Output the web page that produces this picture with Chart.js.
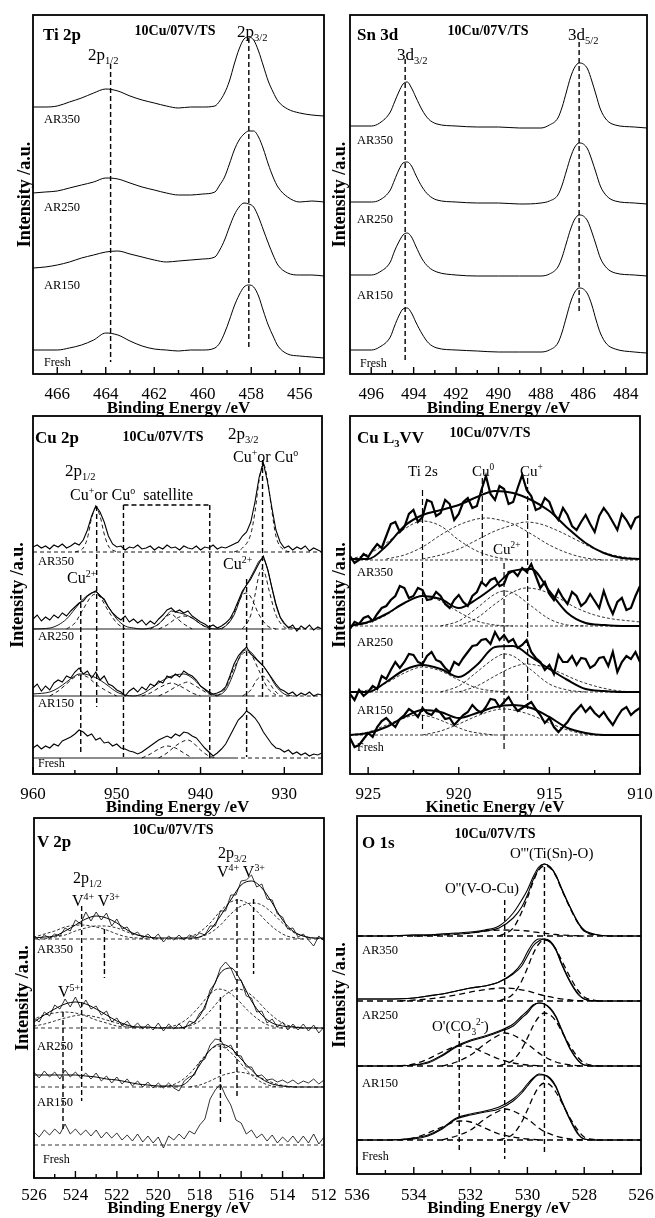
<!DOCTYPE html>
<html>
<head>
<meta charset="utf-8">
<script src="https://cdn.jsdelivr.net/npm/chart.js@4.4.1/dist/chart.umd.min.js"></script>
<style>
body{margin:0;background:#fff;width:655px;height:1218px;position:relative;overflow:hidden;font-family:"Liberation Serif","Times New Roman",serif;}
canvas{position:absolute;}
.t{position:absolute;white-space:nowrap;line-height:1;color:#000;z-index:5;}
.t sub,.t sup{font-size:0.62em;line-height:0;}
</style>
</head>
<body>
<script>
const FONT = '"Liberation Serif", "Times New Roman", serif';
const SAMPLES = ['AR350', 'AR250', 'AR150', 'Fresh'];

// ---------- Ti 2p ----------
const tiX = [467,466.5,466,465.5,465,464.5,464,463.5,463,462.5,462,461.5,461,460.5,460,459.5,459.3,459.1,458.9,458.7,458.5,458.3,458.1,457.9,457.7,457.5,457.3,457.1,456.9,456.5,456,455.5,455];
const tiAR350 = [9,9,10,14,18,23,27,25,20,16,13,10,8,9,9,10,15,23,35,52,67,77,79,76,65,50,35,24,15,7,3,1,0];
const tiAR250 = [9,10,11,14,17,20,24,23,19,15,12,9,7,7,8,10,17,25,38,52,62,68,71,71,65,53,38,25,15,5,0,1,0];
const tiAR150 = [8,9,11,14,18,21,24,25,22,19,16,14,15,16,17,19,26,36,49,61,69,73,72,69,59,46,33,21,11,3,1,1,0];
const tiFresh = [8,8,8,10,13,18,25,23,17,12,9,8,7,8,8,10,15,25,38,52,63,71,73,71,62,47,33,22,12,4,2,1,0];
const tiOffsets = [258, 172, 98, 16];
const tiPeaks = [[463.8, 310, 12], [458.1, 336, 27]];
const tiMajor = [466,464,462,460,458,456];
const tiMinor = [465,463,461,459,457];

// ---------- Sn 3d ----------
const snX = [497,496,495.6,495.1,494.9,494.7,494.5,494.3,494.1,493.9,493.6,493.3,492.9,492,491,490,489,488,487.6,487.2,487,486.8,486.6,486.4,486.2,486,485.8,485.6,485.4,485.2,484.9,484.5,483.6,483];
const snAR350 = [2,2,5,16,26,36,44,46,40,31,18,9,4,2,1,1,0,0,3,10,21,36,51,61,65,64,59,47,33,19,8,3,1,0];
const snAR250 = [2,2,4,14,24,34,41,42,38,29,17,9,4,2,1,1,0,1,3,9,19,33,47,57,61,60,55,44,31,18,8,3,1,0];
const snAR150 = [1,1,4,14,25,34,41,43,39,30,17,9,4,1,0,0,0,0,2,9,19,33,47,57,61,60,55,44,31,18,8,3,1,0];
const snFresh = [3,3,6,16,27,37,44,45,40,31,19,10,5,3,2,1,1,1,3,10,21,36,51,61,65,64,59,48,33,20,9,4,1,0];
const snOffsets = [246, 170, 98, 21];
const snPeaks = [[494.4, 315, 14], [486.2, 332, 61]];
const snMajor = [496,494,492,490,488,486,484];
const snMinor = [495,493,491,489,487,485];

// ---------- Cu 2p (960 -> 925.5, step 0.5) ----------
const cuAR350 = [5,7,4,6,3,7,5,8,4,6,9,7,12,22,36,46,40,30,16,8,5,6,2,5,4,7,3,4,6,2,5,3,7,4,5,2,6,4,3,6,2,5,4,7,3,5,4,6,8,10,16,20,30,50,75,89,70,45,22,10,4,6,2,5,3,6,1,4,2,0];
const cuAR250 = [10,14,8,12,9,14,11,16,13,18,22,26,28,33,36,38,33,30,22,16,12,9,13,7,10,6,9,4,8,5,10,14,19,21,17,19,16,18,13,10,7,5,2,4,1,3,6,10,18,28,38,44,50,58,66,73,60,42,25,12,6,1,4,-2,3,0,4,-1,2,0];
const cuAR150 = [8,12,5,10,6,13,16,14,20,18,24,28,22,25,18,24,16,20,12,10,6,4,0,5,8,4,9,6,12,10,15,13,20,18,22,19,25,22,20,16,10,7,4,2,3,5,9,20,32,40,45,49,42,38,34,30,24,18,12,7,5,2,4,0,3,1,4,0,2,1];
const cuFresh = [10,13,9,12,10,14,12,17,19,21,24,28,26,22,24,18,20,15,16,12,14,10,9,7,6,4,6,9,12,15,18,20,22,20,24,22,26,25,22,20,15,10,6,2,5,9,14,22,30,38,42,47,44,40,34,26,20,14,10,9,6,8,4,6,3,5,2,4,3,5];
const cuEnv250 = [[960,0],[958,1],[957,4],[956,10],[955,20],[954,30],[953,36],[952.5,37],[952,34],[951,22],[950,10],[949,3],[948,1],[947,0],[946,1],[945,5],[944,14],[943.5,18],[943,17],[942,15],[941,11],[940,5],[939,1],[938,0],[937,3],[936,14],[935,36],[934,52],[933.5,60],[933,68],[932.5,70],[932,60],[931.5,42],[931,24],[930.5,12],[930,5],[929,1],[928,0]];
const cuEnv150 = [[960,2],[958,4],[957,8],[956,14],[955,20],[954.5,22],[954,22],[953,20],[952,16],[951,10],[950,4],[949,1],[948,0],[947,2],[946,7],[945,13],[944,18],[943,21],[942,22],[941,18],[940,10],[939,3],[938,1],[937,6],[936,24],[935.5,36],[935,44],[934.5,46],[934,44],[933,34],[932.5,30],[932,24],[931,10],[930,2],[929,0]];
const cuFit350 = [
  [[955,0],[954,4],[953.5,14],[953,34],[952.5,44],[952,36],[951.5,18],[951,6],[950,0]],
  [[936,0],[935,4],[934,18],[933.5,40],[933,72],[932.5,88],[932,72],[931.5,42],[931,16],[930,2],[929,0]]];
const cuFit250 = [
  [[956,0],[955,6],[954,20],[953,33],[952.5,35],[952,32],[951,18],[950,6],[949,0]],
  [[946,0],[945,5],[944,13],[943.5,15],[943,12],[942,5],[941,0]],
  [[945,0],[944,4],[943,10],[942,13],[941,11],[940,5],[939,0]],
  [[937.5,0],[936.5,8],[935.5,26],[935,34],[934.5,36],[934,32],[933,14],[932,3],[931,0]],
  [[935,0],[934,14],[933.5,34],[933,55],[932.7,60],[932.3,55],[931.8,38],[931,14],[930,2],[929.5,0]]];
const cuFit150 = [
  [[958,0],[957,5],[956,12],[955,19],[954.3,21],[953.5,19],[952.5,12],[951,4],[950,0]],
  [[947,0],[946,3],[945,8],[944,12],[943.5,13],[943,12],[942,8],[941,3],[940,0]],
  [[945,0],[944,4],[943,9],[942,13],[941.5,14],[941,12],[940,7],[939,2],[938,0]],
  [[938,0],[937,8],[936,28],[935,42],[934.5,44],[934,42],[933,25],[932,8],[931,1]],
  [[935,0],[934,6],[933.3,16],[932.6,20],[932,16],[931.3,7],[930.5,0]]];
const cuFitFresh = [
  [[947,0],[946,4],[945,9],[944,12],[943,10],[942,5],[941,0]],
  [[945,0],[944,5],[943,12],[942,17],[941.5,18],[941,16],[940,8],[939,2],[938,0]]];
const cuOffsets = [222, 145, 78, 16];
const cuSolidTo = [null, 932, 934, 936];
const cuPeaks = [[952.4,268,67],[954.3,179,19],[932.6,314,75],[934.5,195,17],[949.2,269,17],[938.9,269,16]];
const cuSatTop = [949.2, 938.9, 269];
const cuMajor = [960,950,940,930];
const cuMinor = [955,945,935];

// ---------- Cu L3VV (926 -> 910, raw step 0.25, envelope step 1) ----------
const l3AR350 = [4,-3,0,6,3,10,16,12,24,36,38,28,33,46,50,38,43,60,58,44,47,60,56,40,46,58,62,52,54,70,84,66,60,74,71,56,58,72,85,70,64,50,52,62,58,46,40,52,45,34,30,38,45,36,28,44,52,46,38,30,46,40,32,42,44];
const l3AR250 = [-3,4,2,8,10,5,12,18,20,26,30,40,38,28,30,38,36,26,27,34,30,22,18,26,31,24,20,30,34,44,40,46,48,40,42,54,55,50,58,54,62,50,38,44,32,26,36,28,22,34,30,20,24,32,25,18,35,22,12,24,28,16,18,30,40];
const l3AR150 = [-2,-8,2,-4,0,6,3,16,13,22,30,24,30,38,37,30,28,36,40,32,30,24,20,30,27,34,40,46,47,52,53,48,60,52,57,50,53,44,47,52,40,34,30,22,27,18,37,30,30,36,27,34,33,24,27,34,35,26,40,20,30,36,33,40,30];
const l3Fresh = [-3,-12,-10,-4,2,-2,8,14,17,12,8,16,20,26,23,18,27,22,20,26,22,16,17,10,15,20,23,30,25,22,28,36,35,28,33,38,30,24,27,30,33,26,20,12,17,8,3,8,13,20,25,30,23,28,22,18,23,16,10,18,25,28,20,24,27];
const l3Env350 = [1,1,14,34,45,50,55,63,69,67,60,49,32,17,7,2,1];
const l3Env250 = [0,4,12,23,30,27,18,27,40,55,57,35,13,3,1,0,0];
const l3Env150 = [0,0,10,22,27,23,15,27,45,46,35,23,12,3,1,0,0];
const l3EnvFresh = [0,2,8,18,25,23,17,22,28,30,27,18,7,2,0,0,0];
const l3Fit350 = [
  [[926,1],[925,6],[924,17],[923,31],[922,39],[921,34],[920,20],[919,9],[918,3],[917,0]],
  [[924,1],[923,5],[922,13],[921,25],[920,35],[919,41],[918.5,42],[918,41],[917,36],[916,26],[915,15],[914,7],[913,2],[912,0]],
  [[922,1],[921,5],[920,11],[919,20],[918,29],[917,35],[916.3,38],[915.5,36],[914.5,29],[913.5,20],[912.5,11],[911.5,5],[910.5,2],[910,1]]];
const l3Fit250 = [
  [[926,0],[925,3],[924,11],[923,23],[922,30],[921,25],[920,14],[919,5],[918,1],[917,0]],
  [[921,0],[920,5],[919,18],[918,32],[917.5,35],[917,33],[916,20],[915,7],[914,1],[913,0]],
  [[920,0],[919,8],[918,22],[917,34],[916.3,38],[915.5,36],[914.5,28],[913.5,18],[912.5,11],[911.5,7],[910.5,5],[910,4]]];
const l3Fit150 = [
  [[926,0],[925,2],[924,9],[923,19],[922,25],[921,21],[920,12],[919,4],[918,1],[917,0]],
  [[921,0],[920,6],[919,20],[918,34],[917.5,38],[917,36],[916,22],[915,8],[914,2],[913,0]],
  [[920,0],[919,6],[918,16],[917,25],[916.3,28],[915.5,26],[914.5,20],[913.5,12],[912.5,6],[911.5,2],[910.5,0]]];
const l3FitFresh = [
  [[926,0],[925,3],[924,10],[923,17],[922.3,20],[921.5,18],[920.5,11],[919.5,4],[918.5,1],[918,0]],
  [[922,0],[921,4],[920,11],[919,19],[918,25],[917.5,26],[917,25],[916,20],[915,12],[914,5],[913,1],[912,0]]];
const l3Offsets = [214, 148, 82, 39];
const l3Peaks = [[922.0,284,45],[918.7,296,189],[916.2,296,62],[917.5,211,23]];
const l3Major = [925,920,915,910];
const l3Minor = [922.5,917.5,912.5];

// ---------- V 2p (526 -> 512, raw step 0.25, envelope step 0.5) ----------
const vAR350 = [3,-1,4,1,5,3,11,8,19,15,27,18,27,19,26,13,20,10,12,4,7,1,5,0,5,-3,3,-1,4,-1,4,2,6,4,13,13,28,28,44,44,58,59,64,52,55,40,39,25,22,10,11,2,5,-1,-7,3,-2];
const vAR250 = [10,6,16,12,23,19,29,21,31,20,28,19,22,13,17,6,10,2,7,0,5,-1,4,-2,5,-3,4,-1,4,-1,7,5,15,19,38,45,60,66,60,48,48,32,30,16,17,5,9,1,6,-2,4,-2,4,-3,3,-5,1];
const vAR150 = [15,9,16,10,15,8,17,10,15,9,14,8,14,6,11,4,10,3,8,1,6,0,5,-1,4,-1,4,-1,-4,6,10,12,25,28,42,48,47,39,42,32,31,20,20,11,12,7,8,5,7,4,7,3,6,4,8,3,7];
const vFresh = [13,8,15,10,16,11,21,11,16,10,15,9,15,7,13,7,12,5,10,4,11,3,9,2,8,-3,9,5,11,6,14,11,20,26,46,55,61,49,40,25,22,11,15,7,11,4,10,2,8,3,9,2,9,2,11,1,8];
const vEnv350 = [1,2,3,8,14,20,23,21,16,9,4,2,1,1,1,1,2,9,23,39,54,58,51,36,19,8,3,1,1];
const vEnv250 = [6,13,19,24,26,24,19,13,7,3,1,1,0,0,0,3,12,34,55,60,47,27,13,5,2,1,0,0,0];
const vEnv150 = [12,12,12,12,12,11,10,8,7,5,3,2,1,1,1,7,22,37,43,39,28,17,8,3,1,0,0,0,0];
const vFit350 = [
  [[519,0],[518.5,2],[518,7],[517.5,16],[517,28],[516.5,37],[516.2,39],[515.8,37],[515.3,29],[514.8,18],[514.3,9],[513.8,3],[513.3,1],[513,0]],
  [[518.5,0],[518,2],[517.5,6],[517,14],[516.5,25],[516,33],[515.4,36],[515,34],[514.5,26],[514,16],[513.5,7],[513,3],[512.5,1],[512,0]],
  [[527,0],[526,2],[525.5,5],[525,8],[524.5,12],[523.7,14],[523,12],[522.5,9],[522,5],[521.5,2],[521,1],[520.5,0]],
  [[525.5,0],[525,2],[524.5,4],[524,8],[523.5,11],[523,13],[522.6,13],[522,11],[521.5,7],[521,4],[520.5,2],[520,0]]];
const vFit250 = [
  [[520,0],[519.5,1],[519,4],[518.5,11],[518,22],[517.5,34],[517.1,39],[516.7,37],[516.2,29],[515.7,18],[515.2,9],[514.7,3],[514.2,1],[514,0]],
  [[519,0],[518.5,2],[518,7],[517.5,17],[517,29],[516.5,37],[516.2,39],[515.8,37],[515.3,29],[514.8,18],[514.3,9],[513.8,3],[513.3,1],[513,0]],
  [[528,0],[527,3],[526,9],[525.5,13],[525,15],[524.6,16],[524,15],[523.5,12],[523,8],[522.5,5],[522,2],[521.5,1],[521,0]],
  [[526.5,0],[526,2],[525.5,4],[525,7],[524.5,10],[523.7,13],[523,11],[522.5,8],[522,5],[521.5,2],[521,1],[520.5,0]]];
const vFit150 = [
  [[520,0],[519.5,1],[519,5],[518.5,13],[518,25],[517.5,37],[517.1,41],[516.7,38],[516.2,28],[515.7,16],[515.2,7],[514.7,2],[514.2,0]],
  [[518.5,0],[518,2],[517.5,6],[517,11],[516.5,14],[516.2,15],[515.8,14],[515.3,11],[514.8,7],[514.3,3],[513.8,1],[513.3,0]]];
const vOffsets = [239, 150, 91, 33];
const vPeaks = [[516.2,279,81],[515.4,279,204],[517.0,181,54],[523.7,272,77],[522.6,249,200],[524.6,166,49]];
const vMajor = [526,524,522,520,518,516,514,512];
const vMinor = [525,523,521,519,517,515,513];

// ---------- O 1s ----------
const oX = [536,535,534,533.5,533,532.5,532,531.5,531,530.5,530.2,530,529.8,529.6,529.4,529.2,529,528.8,528.5,528.2,528,527.5,527,526];
const oAR350 = [0,0,1,1,2,2,3,5,8,18,29,41,56,67,72,69,61,48,29,13,6,1,0,0];
const oAR350Fit = [0,0,1,1,2,3,4,6,10,23,36,46,59,69,72,69,61,47,29,12,5,1,0,0];
const oAR250 = [2,2,3,5,7,10,13,15,19,27,35,45,55,60,62,60,52,38,20,7,2,0,0,0];
const oAR250Fit = [2,2,3,5,7,10,13,15,19,28,38,49,58,62,62,59,51,37,19,6,2,0,0,0];
const oAR150 = [0,0,1,3,10,19,25,29,34,40,48,53,60,63,62,58,50,37,18,5,1,0,0,0];
const oAR150Fit = [0,0,1,4,11,20,26,30,35,42,50,55,61,63,62,57,49,36,17,5,1,0,0,0];
const oFresh = [0,0,1,4,11,21,25,28,31,39,47,54,61,65,65,62,54,40,21,6,1,0,0,0];
const oFreshFit = [0,0,2,5,12,22,26,29,33,41,49,56,62,66,65,61,53,39,20,5,1,0,0,0];
const oFit350 = [
  [[531,0],[530.5,8],[530.2,24],[530,38],[529.8,54],[529.6,66],[529.4,70],[529.2,68],[529,60],[528.8,47],[528.5,28],[528.2,12],[528,5],[527.5,0]],
  [[534,0],[533,1],[532,3],[531.5,5],[530.8,6],[530,5],[529.5,3],[529,1.5],[528.5,0.5],[528,0]]];
const oFit250 = [
  [[531,0],[530.5,7],[530.2,20],[530,33],[529.8,47],[529.6,57],[529.4,61],[529.2,59],[529,52],[528.8,41],[528.5,24],[528.2,10],[528,4],[527.5,0]],
  [[534.5,0],[533.5,2],[532.5,6],[531.8,10],[530.8,13],[530,10],[529.5,6],[529,3],[528.5,1],[528,0]]];
const oFit150 = [
  [[531,0],[530.5,6],[530.2,17],[530,28],[529.8,40],[529.6,49],[529.4,53],[529.2,51],[529,45],[528.8,35],[528.5,20],[528.2,8],[528,3],[527.5,0]],
  [[533,0],[532.5,4],[532,11],[531.5,22],[531,31],[530.8,33],[530.5,31],[530,22],[529.5,11],[529,4],[528.5,1],[528,0]],
  [[534.5,0],[534,2],[533.5,7],[533,14],[532.4,20],[532,19],[531.5,13],[531,7],[530.5,3],[530,1],[529.5,0]]];
const oFitFresh = [
  [[531,0],[530.5,6],[530.2,18],[530,30],[529.8,43],[529.6,53],[529.4,57],[529.2,55],[529,48],[528.8,38],[528.5,22],[528.2,9],[528,3],[527.5,0]],
  [[533,0],[532.5,4],[532,10],[531.5,21],[531,29],[530.8,31],[530.5,29],[530,21],[529.5,10],[529,4],[528.5,1],[528,0]],
  [[534.5,0],[534,2],[533.5,7],[533,13],[532.4,19],[532,18],[531.5,12],[531,6],[530.5,3],[530,1],[529.5,0]]];
const oOffsets = [238, 173, 108, 34];
const oPeaks = [[529.4,307,22],[530.8,274,15],[532.4,141,23]];
const oMajor = [536,534,532,530,528,526];
const oMinor = [535,533,531,529,527];

// ---------- helpers ----------
function grid(from, to, step) {
  const out = [];
  for (let v = from; v >= to - 1e-9; v -= step) out.push(+v.toFixed(2));
  return out;
}
function pts(xs, ys, off) { return xs.map((x, i) => ({x: x, y: ys[i] + off})); }
function pairs(list, off) { return list.map(p => ({x: p[0], y: p[1] + off})); }
function line(data, extra) {
  return Object.assign({data: data, borderColor: '#000', borderWidth: 1, pointRadius: 0, fill: false, tension: 0}, extra || {});
}
function seg(x1, y1, x2, y2, extra) { return line([{x: x1, y: y1}, {x: x2, y: y2}], extra); }
const SMOOTH = {cubicInterpolationMode: 'monotone'};
const GUIDE = {borderDash: [5, 3], borderWidth: 1.4};

function panel(p) {
  const w = p.box[2] - p.box[0], h = p.box[3] - p.box[1];
  const cv = document.createElement('canvas');
  cv.width = w + p.mL + p.mR;
  cv.height = h + p.mT + p.mB;
  cv.style.left = (p.box[0] - p.mL) + 'px';
  cv.style.top = (p.box[1] - p.mT) + 'px';
  document.body.appendChild(cv);
  const all = p.major.concat(p.minor).sort((a, b) => a - b);
  const frame = {
    id: 'frame',
    afterDraw(chart) {
      const ctx = chart.ctx, a = chart.chartArea, sx = chart.scales.x;
      ctx.save();
      ctx.strokeStyle = '#000';
      ctx.lineWidth = 1.4;
      sx.ticks.forEach(t => {
        const px = sx.getPixelForValue(t.value);
        const len = p.major.includes(t.value) ? 7 : 4;
        ctx.beginPath(); ctx.moveTo(px, a.bottom); ctx.lineTo(px, a.bottom - len); ctx.stroke();
      });
      ctx.lineWidth = 1.8;
      ctx.strokeRect(a.left, a.top, a.right - a.left, a.bottom - a.top);
      ctx.restore();
    }
  };
  new Chart(cv, {
    type: 'line',
    data: {datasets: p.datasets},
    options: {
      responsive: false, animation: false, events: [],
      layout: {autoPadding: false, padding: {left: 0, top: p.mT, right: p.mR, bottom: 0}},
      plugins: {legend: {display: false}, tooltip: {enabled: false}},
      scales: {
        x: {
          type: 'linear', reverse: true, min: p.xmin, max: p.xmax,
          grid: {display: false, drawTicks: false}, border: {display: false},
          afterBuildTicks: s => { s.ticks = all.map(v => ({value: v})); },
          afterFit: s => { s.height = p.mB; },
          ticks: {autoSkip: false, maxRotation: 0, minRotation: 0, padding: p.tickPad, color: '#000',
            font: {family: FONT, size: 17}, callback: v => p.major.includes(v) ? String(v) : ''},
          title: {display: true, text: p.xTitle || 'Binding Energy /eV', color: '#000', padding: 0,
            font: {family: FONT, size: 17, weight: 'bold', lineHeight: 1}}
        },
        y: {
          min: 0, max: h,
          grid: {display: false, drawTicks: false}, border: {display: false},
          ticks: {display: false},
          afterFit: s => { s.width = p.mL; },
          title: {display: true, text: 'Intensity /a.u.', color: '#000', padding: {top: p.yPad, bottom: 0},
            font: {family: FONT, size: 18, weight: 'bold', lineHeight: 1.2}}
        }
      }
    },
    plugins: [frame]
  });
}

function T(x, y, html, size, opt) {
  const d = document.createElement('div');
  d.className = 't';
  d.innerHTML = html;
  d.style.left = x + 'px';
  d.style.top = (y - size / 2) + 'px';
  d.style.fontSize = size + 'px';
  if (opt && opt.bold) d.style.fontWeight = 'bold';
  if (opt && opt.center) d.style.transform = 'translateX(-50%)';
  document.body.appendChild(d);
}

// ---------- Ti 2p panel ----------
panel({
  box: [33, 15, 324, 374], mL: 33, mR: 14, mT: 3, mB: 43, tickPad: 10, yPad: 14.8,
  xmin: 455, xmax: 467, major: tiMajor, minor: tiMinor,
  datasets: [tiAR350, tiAR250, tiAR150, tiFresh].map((s, i) => line(pts(tiX, s, tiOffsets[i]), SMOOTH))
    .concat(tiPeaks.map(g => seg(g[0], g[1], g[0], g[2], GUIDE)))
});

// ---------- Sn 3d panel ----------
panel({
  box: [350, 15, 647, 374], mL: 24, mR: 8, mT: 3, mB: 43, tickPad: 10, yPad: 3.8,
  xmin: 483, xmax: 497, major: snMajor, minor: snMinor,
  datasets: [snAR350, snAR250, snAR150, snFresh].map((s, i) => line(pts(snX, s, snOffsets[i]), SMOOTH))
    .concat(snPeaks.map(g => seg(g[0], g[1], g[0], g[2], GUIDE)))
});

// ---------- Cu 2p panel ----------
(function () {
  const cuX = grid(960, 925.5, 0.5);
  const raw = [cuAR350, cuAR250, cuAR150, cuFresh];
  const env = [null, cuEnv250, cuEnv150, null];
  const fits = [cuFit350, cuFit250, cuFit150, cuFitFresh];
  let sets = [];
  raw.forEach((s, i) => {
    const off = cuOffsets[i];
    sets.push(line(pts(cuX, s, off), {borderWidth: 1.1}));
    if (env[i]) sets.push(line(pairs(env[i], off), Object.assign({borderWidth: 0.9}, SMOOTH)));
    fits[i].forEach(f => sets.push(line(pairs(f, off), Object.assign({borderWidth: 0.9, borderDash: [4, 3]}, SMOOTH))));
    if (cuSolidTo[i]) {
      sets.push(seg(960, off, cuSolidTo[i], off, {borderWidth: 0.9}));
      sets.push(seg(cuSolidTo[i], off, 925.5, off, {borderWidth: 0.9, borderDash: [4, 3]}));
    } else {
      sets.push(seg(960, off, 925.5, off, {borderWidth: 0.9, borderDash: [4, 3]}));
    }
  });
  cuPeaks.forEach(g => sets.push(seg(g[0], g[1], g[0], g[2], GUIDE)));
  sets.push(seg(cuSatTop[0], cuSatTop[2], cuSatTop[1], cuSatTop[2], GUIDE));
  panel({
    box: [33, 416, 322, 774], mL: 33, mR: 14, mT: 3, mB: 42, tickPad: 10, yPad: 7.8,
    xmin: 925.5, xmax: 960, major: cuMajor, minor: cuMinor, datasets: sets
  });
})();

// ---------- Cu L3VV panel ----------
(function () {
  const rx = grid(926, 910, 0.25), ex = grid(926, 910, 1);
  const raw = [l3AR350, l3AR250, l3AR150, l3Fresh];
  const env = [l3Env350, l3Env250, l3Env150, l3EnvFresh];
  const fits = [l3Fit350, l3Fit250, l3Fit150, l3FitFresh];
  let sets = [];
  raw.forEach((s, i) => {
    const off = l3Offsets[i];
    sets.push(line(pts(rx, s, off), {borderWidth: 2.2}));
    sets.push(line(pts(ex, env[i], off), Object.assign({borderWidth: 2}, SMOOTH)));
    fits[i].forEach(f => sets.push(line(pairs(f, off), Object.assign({borderWidth: 0.8, borderDash: [3, 2]}, SMOOTH))));
    sets.push(seg(926, off, 910, off, {borderWidth: 0.8, borderDash: [3, 2]}));
  });
  l3Peaks.forEach(g => sets.push(seg(g[0], g[1], g[0], g[2], {borderDash: [6, 3], borderWidth: 1.2})));
  panel({
    box: [350, 416, 640, 774], mL: 24, mR: 15, mT: 3, mB: 42, tickPad: 10, yPad: 3.8,
    xmin: 910, xmax: 926, major: l3Major, minor: l3Minor, datasets: sets, xTitle: 'Kinetic Energy /eV'
  });
})();

// ---------- V 2p panel ----------
(function () {
  const rx = grid(526, 512, 0.25), ex = grid(526, 512, 0.5);
  const raw = [vAR350, vAR250, vAR150, vFresh];
  const env = [vEnv350, vEnv250, vEnv150, null];
  const fits = [vFit350, vFit250, vFit150, []];
  let sets = [];
  raw.forEach((s, i) => {
    const off = vOffsets[i];
    sets.push(line(pts(rx, s, off), {borderWidth: 0.8}));
    if (env[i]) sets.push(line(pts(ex, env[i], off), Object.assign({borderWidth: 1}, SMOOTH)));
    fits[i].forEach(f => sets.push(line(pairs(f, off), Object.assign({borderWidth: 0.8, borderDash: [3, 2]}, SMOOTH))));
    sets.push(seg(526, off, 512, off, {borderWidth: 0.8, borderDash: [4, 3]}));
  });
  vPeaks.forEach(g => sets.push(seg(g[0], g[1], g[0], g[2], GUIDE)));
  panel({
    box: [34, 818, 324, 1178], mL: 34, mR: 14, mT: 3, mB: 39, tickPad: 7, yPad: 12.8,
    xmin: 512, xmax: 526, major: vMajor, minor: vMinor, datasets: sets
  });
})();

// ---------- O 1s panel ----------
(function () {
  const raw = [oAR350, oAR250, oAR150, oFresh];
  const fit = [oAR350Fit, oAR250Fit, oAR150Fit, oFreshFit];
  const comps = [oFit350, oFit250, oFit150, oFitFresh];
  let sets = [];
  raw.forEach((s, i) => {
    const off = oOffsets[i];
    sets.push(line(pts(oX, s, off), Object.assign({borderWidth: 1.1}, SMOOTH)));
    sets.push(line(pts(oX, fit[i], off), Object.assign({borderWidth: 1.1}, SMOOTH)));
    comps[i].forEach(f => sets.push(line(pairs(f, off), Object.assign({borderWidth: 1.3, borderDash: [6, 4]}, SMOOTH))));
    sets.push(seg(536, off, 526, off, {borderWidth: 1.3, borderDash: [6, 4]}));
  });
  oPeaks.forEach(g => sets.push(seg(g[0], g[1], g[0], g[2], GUIDE)));
  panel({
    box: [357, 816, 641, 1174], mL: 31, mR: 14, mT: 3, mB: 43, tickPad: 11, yPad: 3.8,
    xmin: 526, xmax: 536, major: oMajor, minor: oMinor, datasets: sets
  });
})();

// ---------- texts ----------
const B = {bold: true}, BC = {bold: true, center: true};
T(43, 34, 'Ti 2p', 17, B);
T(175, 31, '10Cu/07V/TS', 14, BC);
T(237, 31, '2p<sub>3/2</sub>', 17);
T(88, 54, '2p<sub>1/2</sub>', 17);
[119, 207, 285, 362].forEach((y, i) => T(44, y, SAMPLES[i], i === 3 ? 12 : 12.5));

T(357, 34, 'Sn 3d', 17, B);
T(488, 31, '10Cu/07V/TS', 14, BC);
T(568, 34, '3d<sub>5/2</sub>', 17);
T(397, 54, '3d<sub>3/2</sub>', 17);
[140, 219, 295, 363].forEach((y, i) => T(i === 3 ? 360 : 357, y, SAMPLES[i], i === 3 ? 12 : 12.5));

T(35, 437, 'Cu 2p', 17, B);
T(163, 437, '10Cu/07V/TS', 14, BC);
T(228, 433, '2p<sub>3/2</sub>', 17);
T(233, 457, 'Cu<sup>+</sup>or Cu<sup>o</sup>', 16);
T(65, 470, '2p<sub>1/2</sub>', 17);
T(70, 495, 'Cu<sup>+</sup>or Cu<sup>o</sup>&nbsp; satellite', 16);
T(67, 578, 'Cu<sup>2+</sup>', 16);
T(223, 564, 'Cu<sup>2+</sup>', 16);
[561, 636, 703, 763].forEach((y, i) => T(38, y, SAMPLES[i], i === 3 ? 12 : 12.5));

T(357, 437, 'Cu L<sub>3</sub>VV', 17, B);
T(490, 433, '10Cu/07V/TS', 14, BC);
T(408, 471, 'Ti 2s', 15);
T(472, 471, 'Cu<sup>0</sup>', 15);
T(520, 471, 'Cu<sup>+</sup>', 15);
T(493, 549, 'Cu<sup>2+</sup>', 15);
[572, 642, 710, 747].forEach((y, i) => T(357, y, SAMPLES[i], i === 3 ? 12 : 12.5));

T(37, 841, 'V 2p', 17, B);
T(173, 830, '10Cu/07V/TS', 14, BC);
T(218, 853, '2p<sub>3/2</sub>', 16);
T(217, 872, 'V<sup>4+</sup> V<sup>3+</sup>', 16);
T(73, 878, '2p<sub>1/2</sub>', 16);
T(72, 901, 'V<sup>4+</sup> V<sup>3+</sup>', 16);
T(58, 992, 'V<sup>5+</sup>', 16);
[949, 1046, 1102, 1159].forEach((y, i) => T(i === 3 ? 43 : 37, y, SAMPLES[i], i === 3 ? 12 : 12.5));

T(362, 842, 'O 1s', 17, B);
T(495, 834, '10Cu/07V/TS', 14, BC);
T(510, 853, "O'''(Ti(Sn)-O)", 15);
T(445, 888, "O''(V-O-Cu)", 15);
T(432, 1026, "O'(CO<sub>3</sub><sup>2-</sup>)", 15);
[950, 1015, 1083, 1156].forEach((y, i) => T(362, y, SAMPLES[i], i === 3 ? 12 : 12.5));
</script>
</body>
</html>
